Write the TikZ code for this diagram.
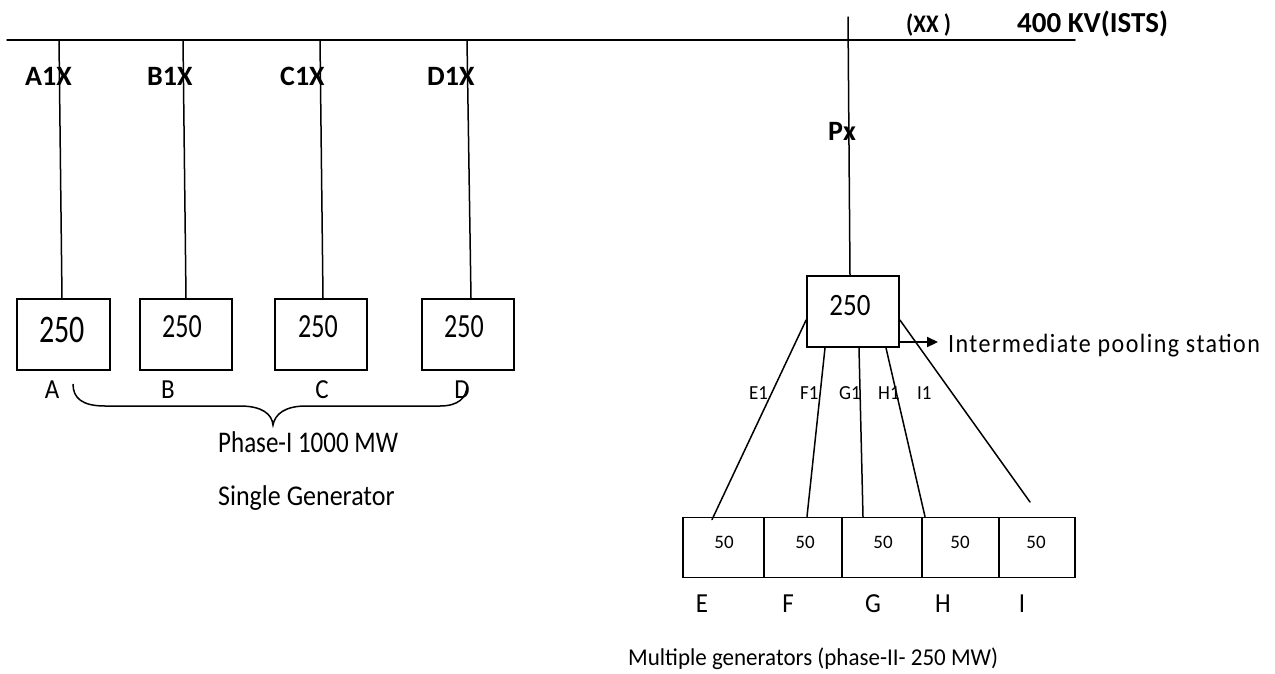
\documentclass[tikz,border=0pt]{standalone}
\usepackage{fontspec}
\usepackage{graphicx}
\setmainfont{Carlito}
\newfontfamily\spacedfont[LetterSpace=6]{Carlito}
\usetikzlibrary{arrows.meta}
\tikzset{
  wire/.style={line width=1.5pt, line cap=round},
  genbox/.style={draw, line width=1.8pt, minimum width=93pt, minimum height=71pt, inner sep=0pt},
  smallbox/.style={draw, line width=1.8pt, minimum height=60pt, inner sep=0pt},
  txt/.style={inner sep=0pt, anchor=base},
  txtw/.style={inner sep=0pt, anchor=base west},
  boldlbl/.style={txtw, font=\bfseries\fontsize{28}{30}\selectfont},
  letter/.style={txt, font=\fontsize{25}{25}\selectfont},
}
\newcommand{\fs}[1]{\fontsize{#1}{#1}\selectfont}
\newcommand{\vst}[2]{\scalebox{1}[#1]{#2}}
\begin{document}
\begin{tikzpicture}[x=1pt,y=-1pt]
\useasboundingbox (0,0) rectangle (1275,673);
% bus
\coordinate (busL) at (7,40);
\coordinate (busR) at (1075,40);
\draw[wire] (busL) -- (busR);
\coordinate (ba) at (59,40);
\coordinate (bb) at (183,40);
\coordinate (bc) at (320,40);
\coordinate (bd) at (467,40);
\coordinate (bp) at (848,17);
% generator boxes
\node[genbox] (A) at (63.5,334.5) {};
\node[genbox, minimum width=92pt] (B) at (186,334.5) {};
\node[genbox, minimum width=92pt] (C) at (321,334.5) {};
\node[genbox, minimum width=92pt] (D) at (468,334.5) {};
\node[txt, font=\fs{30}] (Atx) at (62,342) {\vst{1.3}{250}};
\node[txt, font=\fs{26}] (Btx) at (182,337) {\vst{1.3}{250}};
\node[txt, font=\fs{26}] (Ctx) at (318,337) {\vst{1.3}{250}};
\node[txt, font=\fs{26}] (Dtx) at (464,337) {\vst{1.3}{250}};
\draw[wire] (ba) -- ([xshift=-1.5pt]A.north);
\draw[wire] (bb) -- (B.north);
\draw[wire] (bc) -- ([xshift=2pt]C.north);
\draw[wire] (bd) -- ([xshift=3pt]D.north);
% bus labels
\node[boldlbl] (lA) at (25,85) {A1X};
\node[boldlbl] (lB) at (147,85) {B1X};
\node[boldlbl] (lC) at (280,85) {C1X};
\node[boldlbl] (lD) at (427,85) {D1X};
\node[boldlbl] (lP) at (828,140) {Px};
\node[txtw, font=\bfseries\fs{23}] (lXX) at (906,32) {\vst{1.1}{(XX )}};
\node[txtw, font=\bfseries\fs{29}] (lKV) at (1017,32) {400 KV(ISTS)};
% A-D letters
\node[letter] (nA) at (52,398) {\vst{1.1}{A}};
\node[letter] (nB) at (168,398) {\vst{1.1}{B}};
\node[letter] (nC) at (322,398) {\vst{1.1}{C}};
\node[letter] (nD) at (462,398) {\vst{1.1}{D}};
% brace
\draw[line width=1.5pt] (73,384) .. controls (73,398) and (82,406) .. (105,406)
  -- (240,406) .. controls (262,406) and (272,414) .. (273,425)
  .. controls (275,414) and (285,406) .. (306,406)
  -- (440,406) .. controls (458,406) and (467,398) .. (467,385);
\node[txtw, font=\fs{25}] (ph1) at (218,452) {\vst{1.2}{Phase-I 1000 MW}};
\node[txtw, font=\fs{26}] (sg) at (218,505) {\vst{1.1}{Single Generator}};
% pooling station
\node[genbox, minimum width=92pt] (P) at (853,311.5) {};
\node[txt, font=\fs{27}] (Ptx) at (850,315) {\vst{1.15}{250}};
\draw[wire] (bp) -- ([xshift=-3pt]P.north);
\coordinate (arrEnd) at (938,342);
\draw[line width=2.2pt, -{Triangle[length=11pt,width=10pt]}] ([yshift=-30.5pt]P.east) -- (arrEnd);
\node[txtw, font=\spacedfont\fs{24}] (ips) at (948,352) {\vst{1.1}{Intermediate pooling station}};
% small generator boxes
\node[smallbox, minimum width=81pt] (E) at (723.5,547.5) {};
\node[smallbox, minimum width=78pt] (F) at (803,547.5) {};
\node[smallbox, minimum width=80pt] (G) at (882,547.5) {};
\node[smallbox, minimum width=77pt] (H) at (960.5,547.5) {};
\node[smallbox, minimum width=76pt] (I) at (1037,547.5) {};
\node[txt, font=\fs{19}] (Etx) at (724,548) {50};
\node[txt, font=\fs{19}] (Ftx) at (805,548) {50};
\node[txt, font=\fs{19}] (Gtx) at (883,548) {50};
\node[txt, font=\fs{19}] (Htx) at (960,548) {50};
\node[txt, font=\fs{19}] (Itx) at (1036,548) {50};
% feeders
\coordinate (Iend) at (1030,502);
\draw[wire] ([yshift=-8.5pt]P.west) -- ([xshift=-11.5pt,yshift=-3pt]E.north);
\draw[wire] ([xshift=-28pt]P.south) -- ([xshift=4pt]F.north);
\draw[wire] ([xshift=6pt]P.south) -- ([xshift=-19pt]G.north);
\draw[wire] ([xshift=33pt]P.south) -- ([xshift=-35.5pt]H.north);
\draw[wire] ([yshift=-8.5pt]P.east) -- (Iend);
\node[txtw, font=\fs{19}] (E1) at (749,399) {\vst{1.05}{E1}};
\node[txtw, font=\fs{19}] (F1) at (800,399) {\vst{1.05}{F1}};
\node[txtw, font=\fs{19}] (G1) at (839,399) {\vst{1.05}{G1}};
\node[txtw, font=\fs{19}] (H1) at (878,399) {\vst{1.05}{H1}};
\node[txtw, font=\fs{19}] (I1) at (917,399) {\vst{1.05}{I1}};
% E..I letters
\node[letter] (nE) at (702,612) {\vst{1.1}{E}};
\node[letter] (nF) at (788,612) {\vst{1.1}{F}};
\node[letter] (nG) at (873,612) {\vst{1.1}{G}};
\node[letter] (nH) at (943,612) {\vst{1.1}{H}};
\node[letter] (nI) at (1022,612) {\vst{1.1}{I}};
\node[txtw, font=\fs{23}] (mg) at (628,665) {\vst{1.05}{Multiple generators (phase-II- 250 MW)}};
\end{tikzpicture}
\end{document}
